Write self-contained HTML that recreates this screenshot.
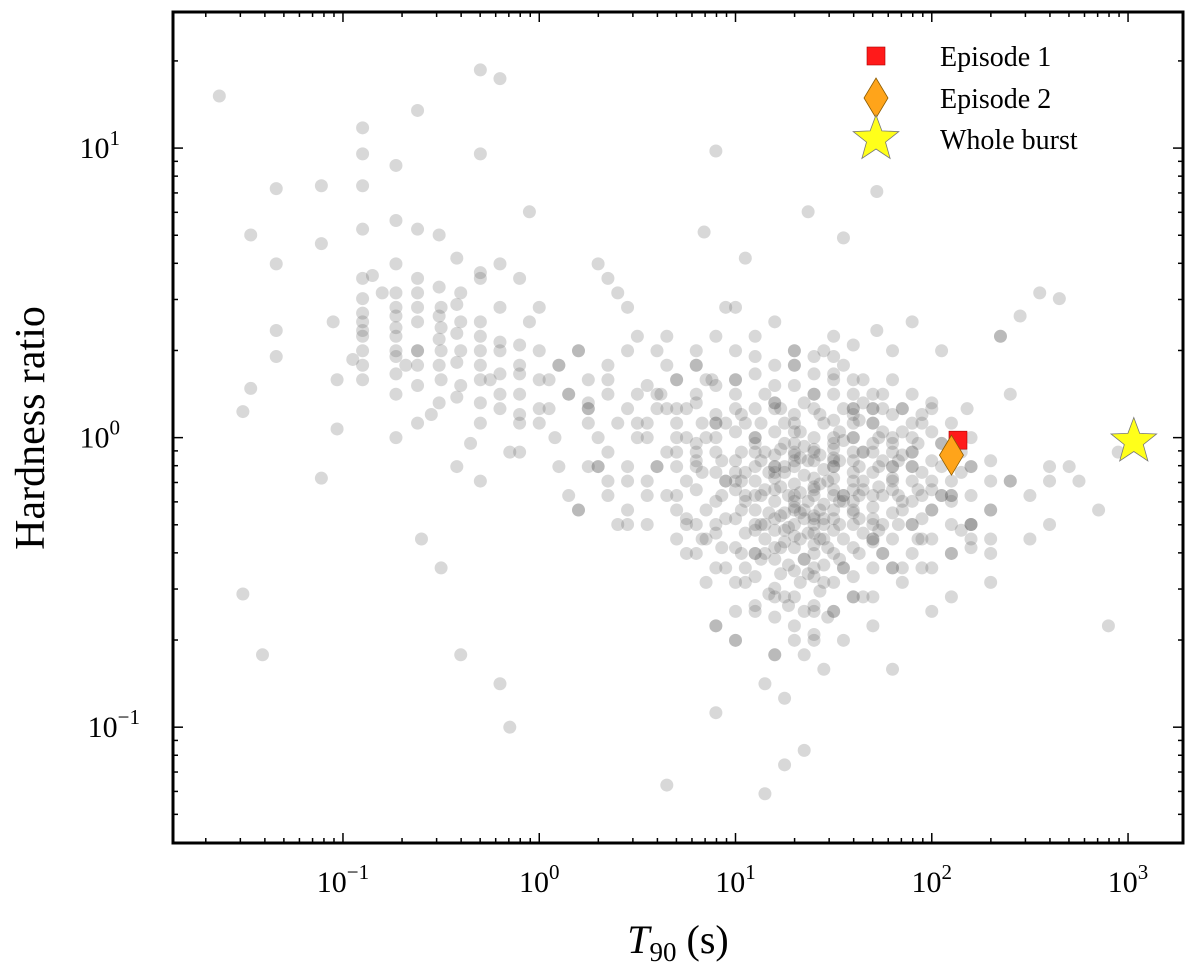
<!DOCTYPE html>
<html><head><meta charset="utf-8"><style>
body{margin:0;background:#fff;}
svg text{font-family:"Liberation Serif",serif;fill:#000;}
</style></head><body>
<svg id="chart" width="1200" height="963" xmlns="http://www.w3.org/2000/svg">
<g id="pts"></g>
<g id="special"></g>
<g id="axes"></g>
<g id="legend"></g>
<text x="678" y="953" font-size="40" text-anchor="middle"><tspan font-style="italic">T</tspan><tspan font-size="27" dy="8">90</tspan><tspan dy="-8"> (s)</tspan></text>
<text transform="translate(44,428) rotate(-90)" font-size="42" text-anchor="middle">Hardness ratio</text>
</svg>
<script>
// log10(T90) and log10(HR) of sample bursts (estimated from figure)
const logT90 = [-1.63,-1.51,-1.51,-1.41,-1.47,-1.47,-1.34,-1.34,-1.34,-1.34,-1.11,-1.11,-1.11,-1.03,-1.03,-0.9,-0.9,-0.9,-0.9,-0.9,-0.9,-0.9,-0.9,-0.9,-0.73,-0.73,-0.73,-0.73,-0.73,-0.73,-0.73,-0.73,-0.73,-0.62,-0.62,-0.62,-0.62,-0.62,-0.62,-0.62,-0.51,-0.51,-0.51,-0.51,-0.51,-0.51,-0.42,-0.42,-0.42,-0.42,-0.42,-0.42,-0.3,-0.3,-0.3,-0.3,-0.3,-0.3,-0.3,-0.3,-0.2,-0.2,-0.2,-0.2,-0.2,-0.1,-0.1,-0.1,-0.1,-0.1,-0.05,0,0,0,0,0.05,0.08,0.1,0.15,0.15,0.2,0.25,0.3,0.3,0.35,0.4,0.45,0.5,0.55,0.6,0.6,0.65,0.7,0.75,0.8,0.9,0.88,1.37,1.72,1.55,0.84,1.72,-1.05,-0.8,-0.68,-0.55,-0.35,-0.25,-0.15,0.0,0.1,0.2,0.35,0.45,0.5,0.55,0.62,0.7,0.75,0.8,0.85,0.9,0.95,1.0,1.05,1.1,1.15,1.2,1.25,1.3,1.35,1.4,1.45,1.5,1.55,1.6,1.65,1.7,1.75,1.8,1.85,1.9,1.95,2.0,2.05,2.1,2.2,2.3,2.4,2.5,2.6,0.6,0.7,0.8,0.9,1.0,1.1,1.2,1.3,1.4,1.5,1.6,1.7,1.8,1.9,2.0,2.1,2.2,2.3,0.7,0.8,0.9,1.0,1.1,1.2,1.3,1.4,1.5,1.6,1.7,1.8,1.9,2.0,2.1,2.2,0.75,0.85,0.95,1.05,1.15,1.25,1.35,1.45,1.55,1.65,1.75,1.85,1.95,2.05,0.8,0.9,1.0,1.1,1.2,1.3,1.4,1.5,1.6,1.7,1.8,1.9,2.0,0.9,1.0,1.1,1.2,1.3,1.4,1.5,1.6,1.7,1.8,1.9,1.0,1.1,1.2,1.3,1.4,1.5,1.6,1.7,1.8,1.15,1.25,1.35,1.45,1.55,1.65,1.2,1.3,1.4,1.5,1.3,1.4,1.1,1.2,1.35,1.45,1.55,1.05,1.25,1.5,1.6,1.75,0.4,0.5,0.3,0.2,0.1,0.6,0.5,0.45,0.35,0.25,0.15,0.05,-0.05,0.4,0.3,0.2,2.35,2.45,2.55,2.65,2.75,2.85,2.95,2.5,2.7,2.6,2.4,2.3,2.2,2.1,1.95,2.05,1.85,1.6,1.3,1.4,1.2,1.0,0.9,-0.2,-0.15,-0.4,0.9,1.6,0.65,-0.5,-0.6,-0.3,-0.85,-0.95,2.18,2.35,2.4,2.6,2.9,0.6,1.85,1.7,1.2,1.4,1.3,1.5,0.95,1.05,1.15,1.25,1.35,1.45,1.55,1.65,1.75,1.85,1.95,2.05,2.15];
const logHR  = [1.18,0.09,-0.54,-0.75,0.70,0.17,0.86,0.60,0.37,0.28,0.87,0.67,-0.14,0.2,0.03,1.07,0.98,0.87,0.72,0.55,0.43,0.37,0.3,0.25,0.94,0.75,0.6,0.5,0.42,0.35,0.28,0.15,0.0,1.13,0.72,0.55,0.45,0.3,0.18,0.05,0.7,0.52,0.42,0.34,0.25,0.12,0.62,0.46,0.36,0.26,0.14,-0.1,1.27,0.98,0.55,0.4,0.3,0.2,0.05,-0.15,1.24,0.6,0.45,0.33,0.15,0.55,0.32,0.22,0.08,-0.05,0.78,0.45,0.3,0.2,0.05,0.1,0.0,0.25,0.15,-0.2,0.3,0.1,-0.1,0.0,0.2,0.05,-0.15,0.15,0.05,-0.1,0.1,0.35,0.2,0.0,0.3,0.99,0.2,0.78,0.85,0.69,0.71,0.37,0.4,0.5,0.25,0.08,-0.02,0.2,-0.05,0.1,-0.1,-0.25,-0.15,-0.3,0.05,-0.2,0.15,0.0,-0.3,-0.1,0.2,0.05,-0.15,0.1,-0.2,0.0,-0.3,0.12,-0.1,0.05,-0.25,-0.05,-0.35,0.0,-0.2,0.08,-0.15,-0.3,0.02,-0.1,-0.25,-0.05,-0.2,0.1,-0.1,-0.2,-0.3,-0.25,-0.15,-0.35,-0.1,-0.1,-0.2,-0.05,-0.3,-0.15,-0.4,-0.1,-0.25,-0.45,-0.2,-0.05,-0.35,-0.15,-0.3,-0.25,-0.4,-0.35,-0.5,0.1,0.15,0.05,0.2,-0.05,0.1,0.02,0.15,-0.1,0.05,0.1,-0.05,0.0,-0.15,-0.2,-0.3,-0.4,-0.35,-0.45,-0.5,-0.4,-0.55,-0.6,-0.5,-0.45,-0.55,-0.4,-0.5,-0.35,0.3,0.25,0.35,0.2,0.28,0.18,0.25,0.15,0.2,0.1,0.05,0.0,-0.1,-0.6,-0.65,-0.7,-0.6,-0.75,-0.65,-0.7,-0.6,-0.55,-0.65,-0.45,0.4,0.45,0.35,0.4,0.3,0.28,0.22,0.15,0.1,-0.8,-0.85,-0.9,-0.75,-0.8,-0.7,-0.05,-0.12,-0.08,-0.18,-0.02,-0.22,-0.28,-0.32,-0.38,-0.42,-0.28,-0.22,-0.12,-0.32,-0.08,-0.18,-0.2,-0.3,0.0,-0.1,-0.25,0.25,0.3,0.35,0.45,0.55,0.1,0.15,0.2,0.4,0.5,0.6,0.3,0.35,0.42,0.5,0.48,-0.15,-0.25,-0.05,-0.2,-0.1,-0.3,-0.15,-0.4,-0.1,-0.55,-0.45,-0.2,0.1,0.0,-0.05,-0.6,-0.55,-0.7,-0.95,-0.85,-1.0,-0.75,-0.65,-0.25,-1.2,-0.45,-0.35,0.57,0.56,0.27,0.1,0.35,0.15,-0.15,-0.65,0.15,-0.45,-0.35,-0.75,-0.3,0.25,0.35,0.45,0.62,-1.23,-1.13,-1.08,0.3,0.25,0.2,0.15,0.1,0.05,-0.02,-0.05,-0.1,-0.12,-0.15,-0.2,-0.25];
// additional bursts in dense regions: columns of [log10 T90, [log10 HR ...]]
const denseColumns = [
 [0.7,[0.05,-0.1,-0.25,0.2,-0.35,-0.05]],
 [0.8,[0.12,-0.02,-0.18,-0.3,0.25,-0.4,-0.08]],
 [0.9,[0.08,-0.12,-0.22,0.18,-0.33,-0.45,0.0,-0.05]],
 [1.0,[0.15,0.02,-0.08,-0.18,-0.28,-0.38,-0.5,0.3,-0.12,-0.6]],
 [1.1,[0.1,-0.02,-0.1,-0.2,-0.3,-0.4,-0.48,0.22,-0.15,-0.25,-0.58,0.0]],
 [1.2,[0.12,0.02,-0.06,-0.14,-0.22,-0.32,-0.42,-0.52,0.25,-0.1,-0.28,-0.62,-0.18]],
 [1.3,[0.08,-0.02,-0.1,-0.16,-0.24,-0.3,-0.38,-0.46,-0.55,0.18,-0.06,-0.2,-0.34,-0.7,0.3]],
 [1.4,[0.1,0.0,-0.08,-0.14,-0.2,-0.27,-0.33,-0.4,-0.48,-0.58,0.22,-0.04,-0.17,-0.37,-0.68]],
 [1.5,[0.06,-0.04,-0.1,-0.18,-0.25,-0.32,-0.4,-0.5,0.15,-0.14,-0.28,-0.6,0.28,-0.07]],
 [1.6,[0.1,0.0,-0.08,-0.15,-0.22,-0.3,-0.38,-0.48,0.2,-0.12,-0.26,-0.55,0.32]],
 [1.7,[0.05,-0.05,-0.12,-0.2,-0.28,-0.36,-0.45,0.15,-0.02,-0.24,-0.55]],
 [1.8,[0.08,-0.02,-0.1,-0.18,-0.26,-0.35,0.2,-0.14,-0.45,0.3]],
 [1.9,[0.05,-0.05,-0.15,-0.22,-0.3,-0.4,0.15,-0.1]],
 [2.0,[0.02,-0.08,-0.18,-0.25,-0.35,0.12,-0.45]],
 [2.1,[-0.05,-0.15,-0.22,-0.3,0.05,-0.4]],
 [2.2,[-0.1,-0.2,-0.3,0.0,-0.38]],
 [2.3,[-0.15,-0.25,-0.08,-0.35]],
 [0.75,[-0.15,0.1,-0.28]],[0.85,[-0.25,0.0,-0.5]],[0.95,[0.05,-0.28,-0.15]],
 [1.05,[0.05,-0.33,-0.22,-0.45]],[1.15,[-0.05,-0.35,-0.18,0.15]],
 [1.25,[-0.02,-0.26,-0.36,-0.12,0.05]],[1.35,[-0.03,-0.13,-0.28,-0.42,0.12]],
 [1.45,[-0.11,-0.23,-0.3,0.05,-0.44]],[1.55,[-0.01,-0.2,-0.35,0.1,-0.45]],
 [1.65,[-0.05,-0.18,-0.33,0.12]],[1.75,[-0.08,-0.3,0.1,-0.4]],
 [1.85,[-0.06,-0.22,0.02]],[1.95,[-0.12,-0.28,0.08]],[2.05,[-0.2,-0.02]],[2.15,[-0.12,-0.32]],
 [0.25,[0.2,0.05,-0.1,0.12]],[0.35,[0.15,-0.05,0.25,-0.2]],[0.45,[0.1,-0.1,0.3,-0.25]],
 [0.55,[0.18,0.0,-0.15,-0.3]],[0.65,[0.1,-0.05,-0.2,0.25]],
 [-0.9,[0.35,0.4,0.48,0.2]],[-0.73,[0.3,0.38,0.45,0.22]],[-0.62,[0.3,0.4,0.5,0.25]],
 [-0.5,[0.3,0.38,0.45,0.2]],[-0.4,[0.3,0.4,0.18,0.5]],[-0.3,[0.25,0.35,0.12]],
 [-0.2,[0.1,0.22,0.3]],[-0.1,[0.15,0.05,0.25]],
 [1.03,[-0.05,-0.15,-0.25,-0.4,0.08]],[1.13,[-0.08,-0.2,-0.3,-0.42,0.05]],
 [1.23,[-0.04,-0.17,-0.27,-0.38,-0.47,0.1]],[1.33,[-0.07,-0.19,-0.26,-0.35,-0.5,0.02]],
 [1.43,[-0.06,-0.16,-0.25,-0.35,-0.53,0.08]],[1.53,[-0.08,-0.22,-0.3,-0.42,0.02]],
 [1.63,[-0.1,-0.2,-0.28,-0.4,0.06]],[1.73,[-0.1,-0.17,-0.32,0.0]],
 [1.83,[-0.08,-0.2,-0.3]],[1.93,[-0.02,-0.18,-0.35]],[0.93,[-0.08,-0.2,-0.38]],
 [0.83,[-0.12,0.05,-0.35]],[1.27,[-0.2,-0.31,-0.44,-0.58]],[1.47,[-0.15,-0.38,-0.62]],
 [1.17,[-0.12,-0.26,-0.54]],[1.37,[-0.08,-0.22,-0.33,-0.47]]
];
const specialNames = ["Episode 1","Episode 2","Whole burst"];
const specialT90 = [136,126,1070];
const specialHR = [0.98,0.87,0.97];

const NS="http://www.w3.org/2000/svg";
const X0=173,X1=1183,Y0=12,Y1=843;
const xmin=-1.866,xmax=3.28,ymin=-1.40,ymax=1.47;
const sx=v=>X0+(Math.log10(v)-xmin)/(xmax-xmin)*(X1-X0);
const sy=v=>Y1-(Math.log10(v)-ymin)/(ymax-ymin)*(Y1-Y0);
function mk(tag,attrs,parent){const e=document.createElementNS(NS,tag);for(const k in attrs)e.setAttribute(k,attrs[k]);parent.appendChild(e);return e;}

const pg=document.getElementById('pts');
function addPoint(lx,ly){
  const c=mk('circle',{cx:sx(Math.pow(10,lx)),cy:sy(Math.pow(10,ly)),r:6.5,fill:'rgba(90,90,90,0.24)'},pg);
  
  
}
const n=Math.min(logT90.length,logHR.length);
for(let i=0;i<n;i++) addPoint(logT90[i],logHR[i]);
for(const col of denseColumns) for(const y of col[1]) addPoint(col[0],y);

function star(cx,cy,R,r){let p=[];for(let i=0;i<10;i++){const a=-Math.PI/2+i*Math.PI/5,rr=i%2?r:R;p.push((cx+rr*Math.cos(a)).toFixed(1)+','+(cy+rr*Math.sin(a)).toFixed(1));}return p.join(' ');}
function drawMarker(k,x,y,parent){
  let e;
  if(k===0) e=mk('rect',{x:x-9,y:y-9,width:18,height:18,fill:'#ff1a1a',stroke:'#a00',"stroke-width":0.6},parent);
  else if(k===1) e=mk('polygon',{points:`${x},${y-20} ${x+12},${y} ${x},${y+20} ${x-12},${y}`,fill:'#ffa41a',stroke:'#8a5a00',"stroke-width":0.8},parent);
  else e=mk('polygon',{points:star(x,y,24,10),fill:'#ffff1a',stroke:'#777',"stroke-width":0.8},parent);
  return e;
}
const sg=document.getElementById('special');
for(let k=0;k<3;k++){
  const e=drawMarker(k,sx(specialT90[k]),sy(specialHR[k]),sg);
  
  
}
const lg=document.getElementById('legend');
const ly=[56,98,139];
for(let k=0;k<3;k++){
  const g=mk('g',{},lg);
  
  
  drawMarker(k,876,ly[k],g);
  const t=mk('text',{x:940,y:ly[k]+10,"font-size":28},g);t.textContent=specialNames[k];
}
const ax=document.getElementById('axes');
mk('rect',{x:X0,y:Y0,width:X1-X0,height:Y1-Y0,fill:'none',stroke:'#000',"stroke-width":3},ax);
function tick(x1,y1,x2,y2){mk('line',{x1,y1,x2,y2,stroke:'#000',"stroke-width":1.5},ax);}
for(let d=-2;d<=3;d++){for(let m=1;m<10;m++){const v=m*Math.pow(10,d);const lv=Math.log10(v);if(lv<xmin||lv>xmax)continue;const x=sx(v);const L=m===1?10:5;tick(x,Y1,x,Y1-L);tick(x,Y0,x,Y0+L);
 if(m===1&&d>=-1){const t=mk('text',{x:x,y:892,"font-size":30,"text-anchor":"middle"},ax);t.innerHTML='10<tspan font-size="21" dy="-13">'+(d===-1?'\u22121':d)+'</tspan>';}}}
for(let d=-2;d<=1;d++){for(let m=1;m<10;m++){const v=m*Math.pow(10,d);const lv=Math.log10(v);if(lv<ymin||lv>ymax)continue;const y=sy(v);const L=m===1?10:5;tick(X0,y,X0+L,y);tick(X1,y,X1-L,y);
 if(m===1){const t=mk('text',{x:d===-1?140:120,y:y+10,"font-size":30,"text-anchor":"end"},ax);t.innerHTML='10<tspan font-size="21" dy="-13">'+(d===-1?'\u22121':d)+'</tspan>';}}}
</script>
</body></html>
